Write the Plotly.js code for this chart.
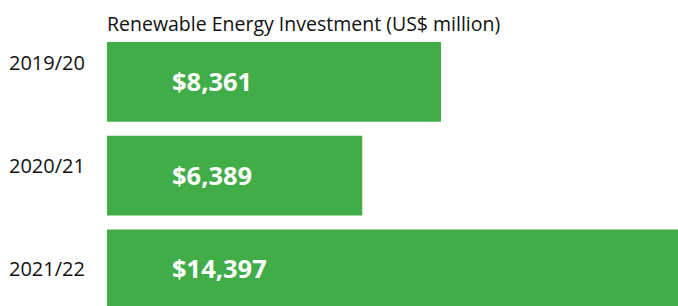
<!DOCTYPE html>
<html>
<head>
<meta charset="utf-8">
<script src="https://cdn.plot.ly/plotly-3.0.1.min.js"></script>
<style>
  html, body { margin: 0; padding: 0; overflow: hidden; background: #fff; }
  #chart { width: 678px; height: 306px; }
</style>
</head>
<body>
<div id="chart"></div>
<script>
const years = ["2019/20", "2020/21", "2021/22"];
const investment = [8361, 6389, 14397];
const chartTitle = "Renewable Energy Investment (US$ million)";

const green = "#41AD49";
const yearLabelShift = [19, 10, 1];

const fmt = v => "$" + v.toLocaleString("en-US");

const annotations = [];
years.forEach((yr, i) => {
  annotations.push({
    x: 0, xref: "paper", xanchor: "right", xshift: -20,
    y: yr, yref: "y", yanchor: "middle", yshift: yearLabelShift[i],
    text: yr, showarrow: false,
    font: { family: "Open Sans", size: 20, color: "#111111" }
  });
  annotations.push({
    x: 0, xref: "x", xanchor: "left", xshift: 63,
    y: yr, yref: "y", yanchor: "middle", yshift: 1,
    text: "<b>" + fmt(investment[i]) + "</b>", showarrow: false,
    font: { family: "Open Sans", size: 25.5, color: "#ffffff" }
  });
});

const trace = {
  type: "bar",
  orientation: "h",
  x: investment,
  y: years,
  marker: { color: green, line: { width: 0 } },
  hoverinfo: "skip"
};

const layout = {
  width: 678,
  height: 306,
  margin: { l: 107, r: 0, t: 35, b: 0, pad: 0 },
  paper_bgcolor: "#ffffff",
  plot_bgcolor: "#ffffff",
  showlegend: false,
  bargap: 0.149,
  title: {
    text: chartTitle,
    x: 0, xref: "paper", xanchor: "left",
    y: 1 - 24 / 306, yref: "container", yanchor: "middle",
    font: { family: "Open Sans", size: 19.5, color: "#111111" }
  },
  xaxis: {
    range: [0, 14293],
    showgrid: false, zeroline: false, showline: false,
    showticklabels: false, ticks: "", fixedrange: true
  },
  yaxis: {
    type: "category",
    categoryorder: "array",
    categoryarray: years,
    range: [2.39, -0.5],
    showgrid: false, zeroline: false, showline: false,
    showticklabels: false, ticks: "", fixedrange: true
  },
  annotations: annotations
};

Plotly.newPlot("chart", [trace], layout, { displayModeBar: false, staticPlot: true });
</script>
</body>
</html>
